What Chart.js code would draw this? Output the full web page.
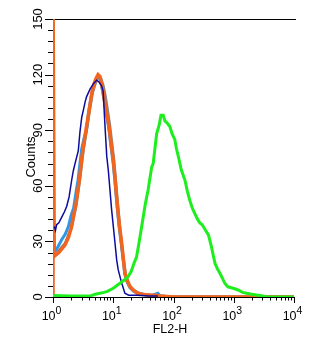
<!DOCTYPE html>
<html>
<head>
<meta charset="utf-8">
<script src="https://cdn.jsdelivr.net/npm/chart.js@4/dist/chart.umd.min.js"></script>
<style>
html,body{margin:0;padding:0;background:#fff;}
#wrap{width:310px;height:341px;}
</style>
</head>
<body>
<div id="wrap"><canvas id="c" width="310" height="341"></canvas></div>
<script>
// ---- data (FL2-H channel value, event counts) ----
const orangeX = [1, 1, 1.05, 1.25, 1.58, 1.8, 2.04, 2.2, 2.4, 2.6, 2.8, 3.0, 3.3, 3.6, 4.0, 4.4, 4.8, 5.2, 5.6, 6.0, 6.5, 7.0, 7.5, 8.0, 8.5, 9.2, 10, 10.7, 11.5, 12.5, 13.8, 15.6, 17, 19, 22, 25, 30, 40, 50, 60, 100, 10000];
const orangeY = [0, 170, 22, 24, 28, 32, 38, 44, 50, 58, 66, 75, 84, 92, 101, 110, 115, 118, 120, 119, 114, 108, 102, 97, 92, 83, 74, 64, 52, 40, 29, 13, 9, 5.6, 3.5, 2, 1.5, 1, 1, 0.5, 0, 0];

const navyX = [1.05, 1.1, 1.15, 1.25, 1.39, 1.55, 1.69, 1.85, 2.04, 2.17, 2.32, 2.63, 2.8, 3.0, 3.2, 3.4, 3.6, 4.1, 4.66, 5.3, 5.8, 6.4, 6.8, 7.3, 7.8, 8.3, 9.4, 10.7, 11.4, 12.1, 13.8, 15.6, 18, 25, 40, 55];
const navyY = [38, 36, 39, 40, 43, 46, 49, 54, 63, 68, 72, 79, 89, 97, 101, 105, 108, 112, 115, 117, 116, 114, 111, 92, 76, 68, 47, 29, 20, 14.6, 7.5, 2, 1, 1, 0.5, 0.5];

const blueX = [1.05, 1.2, 1.4, 1.6, 1.8, 2.0, 2.2, 2.4, 2.6, 2.8, 3.0, 3.3, 3.6, 3.9, 4.3, 4.8, 5.2, 5.6, 6.0, 6.5, 7.0, 7.5, 8.0, 8.5, 9.2, 10, 10.7, 11.5, 12.5, 13.8, 15.6, 17, 19, 22, 26, 32, 45, 55, 60, 100, 10000];
const blueY = [24, 27, 31, 34, 38, 44, 48, 56, 63, 72, 80, 86, 90, 100, 108, 114, 117, 119, 118, 113, 107, 101, 96, 90, 81, 72, 62, 50, 38, 27, 12, 8, 5, 3, 2, 1.5, 1, 2, 0.5, 0, 0];

const grayX = [1.05, 1.25, 1.6, 2.0, 2.4, 2.8, 3.2, 3.6, 4.0, 4.5, 5.0, 5.6, 6.2, 6.8, 7.4, 8.0, 8.7, 9.4, 10.2, 11, 12, 13, 14.5, 16, 18, 21, 25, 30, 40, 60, 100, 10000];
const grayY = [22, 25, 29, 37, 49, 64, 80, 90, 100, 110, 115, 119, 118, 114, 108, 101, 93, 84, 74, 62, 48, 36, 22, 12, 7, 4, 2.5, 1.5, 1, 0.5, 0, 0];

const greenX = [1, 2, 3, 4.1, 5, 6, 7, 8, 10, 12.9, 15, 17.7, 20, 22, 24.4, 27, 31.4, 34, 38, 43.4, 46, 52.5, 58, 62, 67.5, 72, 78, 87, 95, 105, 112, 120, 135, 155, 170, 187, 205, 226, 250, 274, 300, 340, 380, 427, 460, 490, 540, 590, 650, 710, 800, 980, 1180, 1400, 1630, 2000, 2500, 3070, 3500, 10000];
const greenY = [0.8, 0.5, 0.5, 0.5, 1.5, 2, 2.5, 3, 4.7, 7.4, 9, 11, 14, 18, 21.7, 30, 43, 50, 58, 70, 72, 88, 93, 98, 98, 95, 94, 92, 88, 85, 80, 76, 68.5, 63, 57, 52, 48, 45, 42, 40, 39, 36, 33.5, 27, 22, 18, 15, 12.8, 10, 7.4, 5.5, 4.7, 3.8, 2.5, 2, 1.5, 1, 0.5, 0, 0];

const yMajorTicks = [0, 30, 60, 90, 120, 150];
const xDecadeExponents = [0, 1, 2, 3, 4];
const xTitle = 'FL2-H';
const yTitle = 'Counts';

function pts(xs, ys) { return xs.map((x, i) => ({x: x, y: ys[i]})); }

const FONT = '"Liberation Sans", Arial, Helvetica, sans-serif';

const axesPlugin = {
  id: 'flowAxes',
  beforeDatasetsDraw(chart) {
    const {ctx, chartArea: a, scales: {x, y}} = chart;
    ctx.save();
    ctx.strokeStyle = '#000';
    ctx.lineWidth = 1;
    ctx.beginPath();
    // frame: top, left, bottom
    ctx.moveTo(a.left, Math.round(a.top) + 0.5);
    ctx.lineTo(a.right + 2, Math.round(a.top) + 0.5);
    ctx.moveTo(Math.round(a.left) + 0.5, a.top);
    ctx.lineTo(Math.round(a.left) + 0.5, a.bottom + 0.5);
    ctx.moveTo(a.left, Math.round(a.bottom) + 0.5);
    ctx.lineTo(a.right + 1, Math.round(a.bottom) + 0.5);
    // y ticks (major every 30, minor every 6)
    for (let v = 0; v <= 150; v += 6) {
      const py = Math.round(y.getPixelForValue(v)) + 0.5;
      const len = (v % 30 === 0) ? 8 : 5;
      ctx.moveTo(a.left - len, py);
      ctx.lineTo(a.left, py);
    }
    // x ticks (log decades with minor 2..9)
    for (const e of xDecadeExponents) {
      for (let m = 1; m <= 9; m++) {
        if (e === 4 && m > 1) break;
        const px = Math.round(x.getPixelForValue(m * Math.pow(10, e))) + 0.5;
        const len = (m === 1) ? 6 : 3.5;
        ctx.moveTo(px, a.bottom);
        ctx.lineTo(px, a.bottom + len);
      }
    }
    ctx.stroke();

    ctx.fillStyle = '#000';
    // y tick labels (rotated)
    ctx.font = '13px ' + FONT;
    ctx.textAlign = 'center';
    ctx.textBaseline = 'alphabetic';
    for (const v of yMajorTicks) {
      const py = y.getPixelForValue(v);
      ctx.save();
      ctx.translate(a.left - 11.5, py);
      ctx.rotate(-Math.PI / 2);
      ctx.fillText(String(v), 0, 0);
      ctx.restore();
    }
    // y title
    ctx.save();
    ctx.font = '13px ' + FONT;
    ctx.translate(a.left - 18.5, (a.top + a.bottom) / 2 - 1);
    ctx.rotate(-Math.PI / 2);
    ctx.fillText(yTitle, 0, 0);
    ctx.restore();

    // x tick labels 10^n
    for (const e of xDecadeExponents) {
      const px = x.getPixelForValue(Math.pow(10, e));
      ctx.font = '12.5px ' + FONT;
      const wb = ctx.measureText('10').width;
      ctx.font = '10.5px ' + FONT;
      const ws = ctx.measureText(String(e)).width;
      const sx = px - (wb + ws) / 2 - 1.5;
      ctx.textAlign = 'left';
      ctx.font = '12.5px ' + FONT;
      ctx.fillText('10', sx, a.bottom + 23);
      ctx.font = '10.5px ' + FONT;
      ctx.fillText(String(e), sx + wb, a.bottom + 16.5);
    }
    // x title
    ctx.font = '12.5px ' + FONT;
    ctx.textAlign = 'center';
    ctx.fillText(xTitle, 170, a.bottom + 36);
    ctx.restore();
  }
};

const ds = (label, xs, ys, color, w) => ({
  label: label, data: pts(xs, ys), borderColor: color, backgroundColor: color,
  borderWidth: w, pointRadius: 0, tension: 0, fill: false
});

new Chart(document.getElementById('c'), {
  type: 'line',
  data: {
    datasets: [
      ds('Antibody', greenX, greenY, '#1eee1e', 3),
      ds('Blank', navyX, navyY, '#0c0c9c', 1.5),
      ds('Control 3', orangeX, orangeY, '#f2651f', 3.5),
      ds('Control 2', grayX, grayY, '#858585', 3),
      ds('Control 1', blueX, blueY, '#2f95e6', 3)
    ]
  },
  options: {
    responsive: false,
    animation: false,
    devicePixelRatio: 1,
    layout: { padding: { left: 53, right: 16, top: 19, bottom: 44 } },
    plugins: { legend: { display: false }, tooltip: { enabled: false } },
    scales: {
      x: { type: 'logarithmic', min: 1, max: 10000, display: false },
      y: { type: 'linear', min: 0, max: 150, display: false }
    }
  },
  plugins: [axesPlugin]
});
</script>
</body>
</html>
